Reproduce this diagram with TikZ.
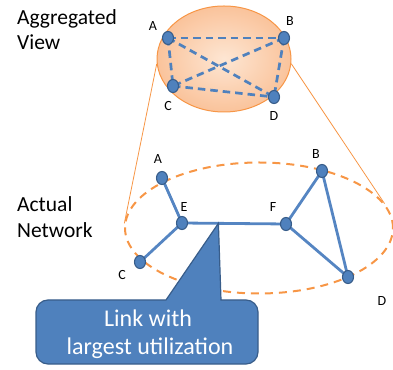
\documentclass[tikz,border=0pt]{standalone}
\usepackage{fontspec}
\setmainfont{Carlito}
\usetikzlibrary{shapes.geometric,calc}
\definecolor{nodeblue}{HTML}{4F81BD}
\definecolor{nodeedge}{HTML}{385D8A}
\definecolor{linkblue}{HTML}{5585C2}
\definecolor{orng}{HTML}{F79646}
\definecolor{orngin}{HTML}{FDE6D3}
\definecolor{orngout}{HTML}{FAC39B}
\pgfdeclarelayer{bg}
\pgfsetlayers{bg,main}
\begin{document}
\begin{tikzpicture}[x=1pt,y=1pt,
  netnode/.style={ellipse, draw=nodeedge, line width=1.1pt, fill=nodeblue,
    minimum width=11pt, minimum height=13pt, inner sep=0pt},
  lbl/.style={font=\fontsize{14}{14}\selectfont, inner sep=0pt},
  side/.style={font=\fontsize{21.5}{21.5}\selectfont, anchor=base west, inner sep=0pt},
  agglink/.style={draw=nodeblue, line width=2.7pt, dash pattern=on 7.5pt off 5pt},
  actlink/.style={draw=linkblue, line width=2.8pt},
  zoomline/.style={draw=orng, line width=0.8pt},
  calloutshape/.style={fill=nodeblue, draw=nodeedge, line width=1.2pt},
  callouttext/.style={text=white, font=\fontsize{24}{24}\selectfont, anchor=base, inner sep=0pt}]
\useasboundingbox (0,0) rectangle (393,369);

% side labels
\node[side] (l1) at (17,344) {Aggregated};
\node[side] (l2) at (17,319) {View};
\node[side] (l3) at (17,157) {Actual};
\node[side] (l4) at (17,131) {Network};

% top nodes
\node[netnode] (tA) at (168,331) {};
\node[netnode] (tB) at (284,331) {};
\node[netnode] (tC) at (173,283) {};
\node[netnode] (tD) at (274,272) {};
\node[lbl] (ltA) at (153,343) {A};
\node[lbl] (ltB) at (290,348) {B};
\node[lbl] (ltC) at (168,263) {C};
\node[lbl] (ltD) at (274,253) {D};

% bottom nodes
\node[netnode] (bA) at (162,191) {};
\node[netnode] (bE) at (182,146) {};
\node[netnode] (bC) at (140,107) {};
\node[netnode] (bF) at (286,145) {};
\node[netnode] (bB) at (322,198) {};
\node[netnode] (bD) at (348,92) {};
\node[lbl] (lbA) at (158,210) {A};
\node[lbl] (lbE) at (184,162) {E};
\node[lbl] (lbC) at (122,94) {C};
\node[lbl] (lbF) at (273,162) {F};
\node[lbl] (lbB) at (316,215) {B};
\node[lbl] (lbD) at (382,68) {D};

\begin{pgfonlayer}{bg}
  \node[ellipse, draw=orng, line width=1pt, inner color=orngin, outer color=orngout,
        minimum width=134pt, minimum height=106pt, inner sep=0pt] (agg) at (224,310) {};
  \node[ellipse, draw=orng, line width=2pt, dash pattern=on 8pt off 6pt,
        minimum width=268pt, minimum height=131pt, inner sep=0pt] (act) at (259,141) {};
  \draw[zoomline] (agg.184) -- (act.178);
  \draw[zoomline] (agg.-4) -- (act.11);
  \draw[agglink] (tA.center) -- (tB.center);
  \draw[agglink] (tA.center) -- (tC.center);
  \draw[agglink] (tA.center) -- (tD.center);
  \draw[agglink] (tB.center) -- (tC.center);
  \draw[agglink] (tB.center) -- (tD.center);
  \draw[agglink] (tC.center) -- (tD.center);
  \draw[actlink] (bA.center) -- (bE.center);
  \draw[actlink] (bE.center) -- (bC.center);
  \draw[actlink] (bE.center) -- (bF.center);
  \draw[actlink] (bF.center) -- (bB.center);
  \draw[actlink] (bF.center) -- (bD.center);
  \draw[actlink] (bB.center) -- (bD.center);
\end{pgfonlayer}

% callout
\coordinate (tip) at ($(bE)!0.35!(bF)$);
\draw[calloutshape] (48,69) -- (166,69) -- (tip) -- (221,69) -- (246,69)
  arc[start angle=90, end angle=0, radius=12] -- (258,17)
  arc[start angle=0, end angle=-90, radius=12] -- (48,5)
  arc[start angle=270, end angle=180, radius=12] -- (36,57)
  arc[start angle=180, end angle=90, radius=12] -- cycle;
\node[callouttext] (c1) at (148,42) {Link with};
\node[callouttext] (c2) at (150,14) {largest utilization};
\end{tikzpicture}
\end{document}
